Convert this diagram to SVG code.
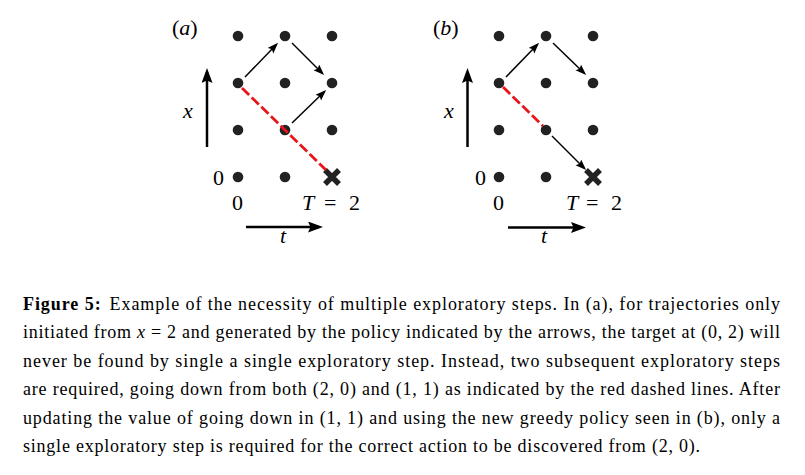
<svg xmlns="http://www.w3.org/2000/svg" width="805" height="475" viewBox="0 0 805 475">
<style>
  .dot { fill: #222; }
  .cross { stroke: #222; stroke-width: 5.5; stroke-linecap: butt; fill: none; }
  .arr { stroke: #000; stroke-width: 1.5; fill: none; marker-end: url(#head); }
  .axis { stroke: #000; stroke-width: 2.5; fill: none; marker-end: url(#bighead); }
  .red { stroke: #e8161b; stroke-width: 2.8; stroke-dasharray: 10 3.5; fill: none; }
  .lbl { font-family: "Liberation Serif", "Times New Roman", serif; font-size: 22px; fill: #000; }
  .it { font-style: italic; }
  .cap { font-family: "Liberation Serif", "Times New Roman", serif; font-size: 18px; fill: #000; }
  .b { font-weight: bold; }
</style>
<defs>
  <marker id="head" markerUnits="userSpaceOnUse" markerWidth="12" markerHeight="10" refX="8" refY="4" orient="auto">
    <path d="M0,0 L11,4 L0,8 L2,4 z" fill="#000"/>
  </marker>
  <marker id="bighead" markerUnits="userSpaceOnUse" markerWidth="18" markerHeight="14" refX="11" refY="5.5" orient="auto">
    <path d="M0,0 L15,5.5 L0,11 L2.5,5.5 z" fill="#000"/>
  </marker>
</defs>

<!-- Panel (a) -->
<g id="panel-a">
  <g id="a-label"><text class="lbl" x="172" y="35">(<tspan class="it">a</tspan>)</text></g>
  <g id="a-x-axis"><text class="lbl it" x="183" y="118">x</text></g>
  <g id="a-t-label"><text class="lbl it" x="280" y="243">t</text></g>
  <g id="a-x0-label"><text class="lbl" x="213" y="185">0</text></g>
  <g id="a-t0-label"><text class="lbl" x="232" y="210">0</text></g>
  <g id="a-T-label"><text class="lbl" x="302" y="210"><tspan class="it">T</tspan></text><text class="lbl" x="324" y="210">=</text><text class="lbl" x="349" y="210">2</text></g>
  <g id="a-n00"><circle class="dot" cx="238" cy="36" r="5.3"/></g>
  <g id="a-n10"><circle class="dot" cx="285" cy="36" r="5.3"/></g>
  <g id="a-n20"><circle class="dot" cx="332" cy="36" r="5.3"/></g>
  <g id="a-n01"><circle class="dot" cx="238" cy="83" r="5.3"/></g>
  <g id="a-n11"><circle class="dot" cx="285" cy="83" r="5.3"/></g>
  <g id="a-n21"><circle class="dot" cx="332" cy="83" r="5.3"/></g>
  <g id="a-n02"><circle class="dot" cx="238" cy="130" r="5.3"/></g>
  <g id="a-n12"><circle class="dot" cx="285" cy="130" r="5.3"/></g>
  <g id="a-n22"><circle class="dot" cx="332" cy="130" r="5.3"/></g>
  <g id="a-n03"><circle class="dot" cx="238" cy="177" r="5.3"/></g>
  <g id="a-n13"><circle class="dot" cx="285" cy="177" r="5.3"/></g>
  <g id="a-target"><path class="cross" d="M325,170 L339,184 M339,170 L325,184"/></g>
</g>

<!-- Panel (b) -->
<g id="panel-b">
  <g id="b-label"><text class="lbl" x="433" y="35">(<tspan class="it">b</tspan>)</text></g>
  <g id="b-x-axis"><text class="lbl it" x="444" y="118">x</text></g>
  <g id="b-t-label"><text class="lbl it" x="541" y="243">t</text></g>
  <g id="b-x0-label"><text class="lbl" x="475" y="185">0</text></g>
  <g id="b-t0-label"><text class="lbl" x="493" y="210">0</text></g>
  <g id="b-T-label"><text class="lbl" x="566" y="210"><tspan class="it">T</tspan></text><text class="lbl" x="586" y="210">=</text><text class="lbl" x="611" y="210">2</text></g>
  <g id="b-n00"><circle class="dot" cx="499" cy="36" r="5.3"/></g>
  <g id="b-n10"><circle class="dot" cx="546" cy="36" r="5.3"/></g>
  <g id="b-n20"><circle class="dot" cx="593" cy="36" r="5.3"/></g>
  <g id="b-n01"><circle class="dot" cx="499" cy="83" r="5.3"/></g>
  <g id="b-n11"><circle class="dot" cx="546" cy="83" r="5.3"/></g>
  <g id="b-n21"><circle class="dot" cx="593" cy="83" r="5.3"/></g>
  <g id="b-n02"><circle class="dot" cx="499" cy="130" r="5.3"/></g>
  <g id="b-n12"><circle class="dot" cx="546" cy="130" r="5.3"/></g>
  <g id="b-n22"><circle class="dot" cx="593" cy="130" r="5.3"/></g>
  <g id="b-n03"><circle class="dot" cx="499" cy="177" r="5.3"/></g>
  <g id="b-n13"><circle class="dot" cx="546" cy="177" r="5.3"/></g>
  <g id="b-target"><path class="cross" d="M586,170 L600,184 M600,170 L586,184"/></g>
</g>

<!-- Connectors -->
<g id="connectors">
  <line class="axis" x1="207" y1="147" x2="207" y2="72"/>
  <line class="axis" x1="246" y1="227" x2="319" y2="227"/>
  <line class="arr" x1="245" y1="77" x2="276" y2="45"/>
  <line class="arr" x1="292" y1="43" x2="322" y2="73"/>
  <line class="arr" x1="292" y1="123" x2="324" y2="92"/>
  <line class="red" x1="242" y1="88" x2="326" y2="170"/>

  <line class="axis" x1="467.5" y1="147" x2="467.5" y2="72"/>
  <line class="axis" x1="508" y1="227.5" x2="582" y2="227.5"/>
  <line class="arr" x1="506" y1="77" x2="537" y2="45"/>
  <line class="arr" x1="553" y1="43" x2="584" y2="73"/>
  <line class="arr" x1="552" y1="136" x2="584" y2="168"/>
  <line class="red" x1="503" y1="87" x2="543" y2="126"/>
</g>

<!-- Caption -->
<g id="caption">
  <text class="cap" x="23" y="309.5" textLength="757"><tspan class="b">Figure 5:</tspan><tspan dx="8">Example of the necessity of multiple exploratory steps. In (a), for trajectories only</tspan></text>
  <text class="cap" x="23" y="338" textLength="757">initiated from <tspan class="it">x</tspan> = 2 and generated by the policy indicated by the arrows, the target at (0, 2) will</text>
  <text class="cap" x="23" y="366.5" textLength="757">never be found by single a single exploratory step. Instead, two subsequent exploratory steps</text>
  <text class="cap" x="23" y="395" textLength="757">are required, going down from both (2, 0) and (1, 1) as indicated by the red dashed lines. After</text>
  <text class="cap" x="23" y="423.5" textLength="757">updating the value of going down in (1, 1) and using the new greedy policy seen in (b), only a</text>
  <text class="cap" x="23" y="452" textLength="677">single exploratory step is required for the correct action to be discovered from (2, 0).</text>
</g>
</svg>
